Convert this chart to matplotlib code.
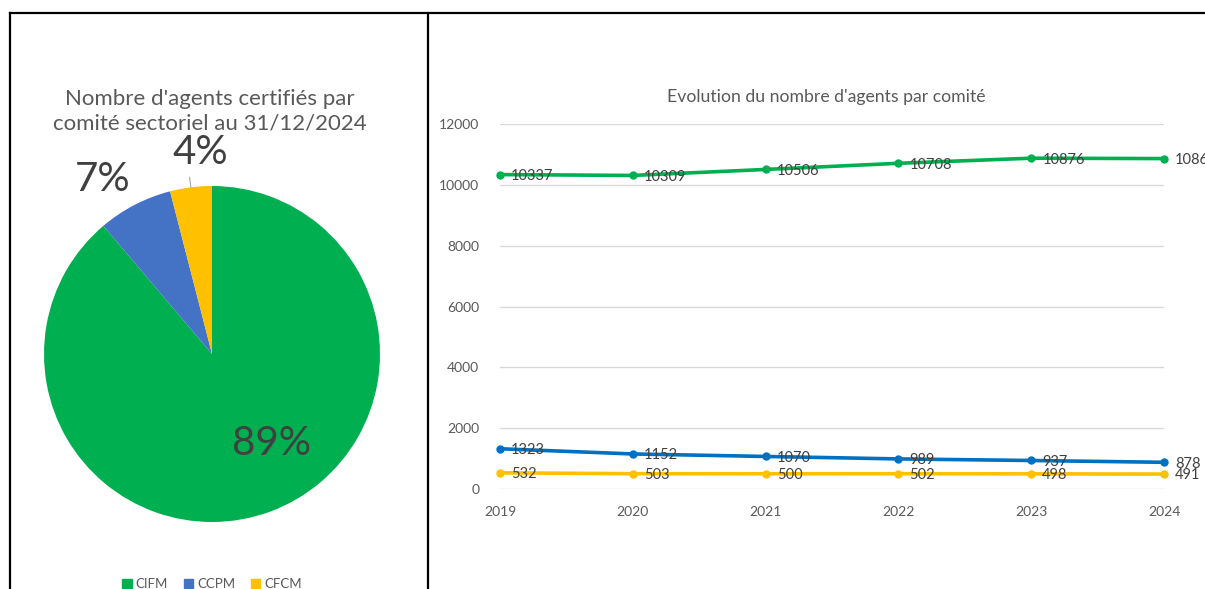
"""
Deux graphiques Excel côte à côte : camembert des agents certifiés (2024)
et évolution annuelle par comité.
"""
import numpy as np
import matplotlib
matplotlib.use('Agg')
import matplotlib.pyplot as plt
from matplotlib.lines import Line2D

plt.rcParams['font.family'] = ['Lato', 'DejaVu Sans']

# données
annees = ['2019', '2020', '2021', '2022', '2023', '2024']
cifm = [10337, 10309, 10506, 10708, 10876, 10863]
ccpm = [1323, 1152, 1070, 989, 937, 878]
cfcm = [532, 503, 500, 502, 498, 491]

comites = ['CIFM', 'CCPM', 'CFCM']
parts_2024 = [cifm[-1], ccpm[-1], cfcm[-1]]

couleurs_pie = ['#00B050', '#4472C4', '#FFC000']
couleurs_ligne = ['#00B050', '#0070C0', '#FFC000']
GRIS = '#595959'
TEXTE = '#404040'

W, H = 1205, 589
fig = plt.figure(figsize=(W / 100, H / 100), dpi=100)


def fx(px):
    return px / W


def fy(py):
    return 1 - py / H


# cadres noirs
for (x0, y0, x1, y1) in [(10, 13, 1205, 13), (10, 13, 10, 589), (428, 13, 428, 589)]:
    fig.add_artist(Line2D([fx(x0), fx(x1)], [fy(y0), fy(y1)], color='black', lw=1.6,
                          transform=fig.transFigure))

# ---- camembert ----
cx, cy, r = 212, 354, 168
ax1 = fig.add_axes([fx(cx - r), fy(cy + r), 2 * r / W, 2 * r / H])
ax1.pie(parts_2024, colors=couleurs_pie, startangle=90, counterclock=False,
        radius=1, wedgeprops=dict(linewidth=0))
ax1.set_xlim(-1, 1)
ax1.set_ylim(-1, 1)
ax1.axis('off')

total = sum(parts_2024)
pcts = [f'{round(v / total * 100)}%' for v in parts_2024]
pos_labels = [(0.357, -0.53), (-0.65, 1.036), (-0.07, 1.2)]
for (lx, ly), t in zip(pos_labels, pcts):
    ax1.text(lx, ly, t, fontsize=29, color=TEXTE, ha='center', va='center', clip_on=False)

# trait de rappel pour la petite part
ang = np.deg2rad(90 - (total - parts_2024[2] / 2) / total * 360)
ax1.plot([np.cos(ang) * 1.0, np.cos(ang) * 1.06], [np.sin(ang) * 1.0, np.sin(ang) * 1.06],
         color='#A6A6A6', lw=0.8, clip_on=False)

fig.text(fx(210), fy(111), "Nombre d'agents certifiés par\ncomité sectoriel au 31/12/2024",
         ha='center', va='center', fontsize=16, color=GRIS, linespacing=1.3)

# légende du camembert
handles = [plt.Rectangle((0, 0), 1, 1, color=c) for c in couleurs_pie]
fig.legend(handles, comites, loc='center', bbox_to_anchor=(fx(212), fy(584)), ncol=3,
           frameon=False, fontsize=9.5, handlelength=0.7, handleheight=0.7,
           handletextpad=0.3, columnspacing=1.2, labelcolor=GRIS)

# ---- courbes ----
x0, x1, y_top, y_bot = 500, 1164, 124, 489
ax2 = fig.add_axes([fx(x0), fy(y_bot), (x1 - x0) / W, (y_bot - y_top) / H])
xs = np.arange(len(annees))
for serie, c in zip([cifm, ccpm, cfcm], couleurs_ligne):
    ax2.plot(xs, serie, color=c, lw=2.6, marker='o', markersize=5, clip_on=False, zorder=3)
    for x, v in zip(xs, serie):
        ax2.annotate(str(v), (x, v), xytext=(8, -1), textcoords='offset points',
                     ha='left', va='center', fontsize=10.5, color=TEXTE,
                     annotation_clip=False, zorder=4)

ax2.set_xlim(0, len(annees) - 1)
ax2.set_ylim(0, 12000)
ax2.set_yticks(range(0, 12001, 2000))
ax2.set_xticks(xs)
ax2.set_xticklabels(annees)
ax2.grid(axis='y', color='#D9D9D9', lw=1)
ax2.set_axisbelow(True)
for s in ax2.spines.values():
    s.set_visible(False)
ax2.tick_params(length=0, colors=GRIS, labelsize=10)
ax2.tick_params(axis='x', pad=12)
ax2.tick_params(axis='y', pad=15)

fig.text(fx(826), fy(97), "Evolution du nombre d'agents par comité",
         ha='center', va='center', fontsize=12.7, color=GRIS)

fig.savefig('out.png', dpi=100, facecolor='white')
